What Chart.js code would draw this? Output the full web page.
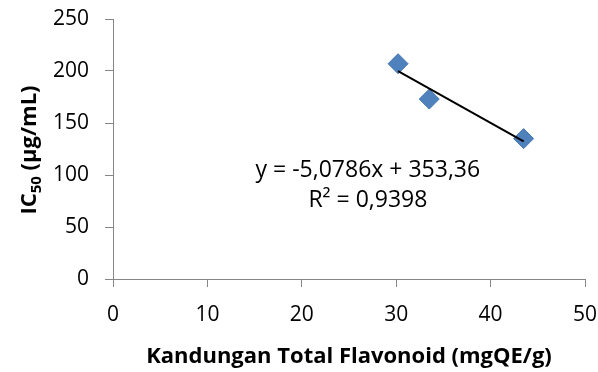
<!DOCTYPE html>
<html>
<head>
<meta charset="utf-8">
<script src="https://cdn.jsdelivr.net/npm/chart.js@4/dist/chart.umd.min.js"></script>
<style>
  html, body { margin: 0; padding: 0; background: #fff; }
  #wrap { width: 598px; height: 372px; }
</style>
</head>
<body>
<div id="wrap"><canvas id="chart" width="598" height="372"></canvas></div>
<script>
// Data
const flavonoid = [30.2, 33.5, 43.5];
const ic50 = [207, 173, 135];
// Trendline from the equation shown in the chart
const slope = -5.0786;
const intercept = 353.36;
const eqText = ['y = -5,0786x + 353,36', 'R\u00B2 = 0,9398'];
const xTicks = [0, 10, 20, 30, 40, 50];
const yTicks = [0, 50, 100, 150, 200, 250];

const FONT = "'Open Sans', 'Liberation Sans', sans-serif";
const axisGray = '#868686';

const points = flavonoid.map((x, i) => ({ x: x, y: ic50[i] }));
const xMin = Math.min(...flavonoid), xMax = Math.max(...flavonoid);
const trend = [xMin, xMax].map(x => ({ x: x, y: slope * x + intercept }));

// equation label + y axis title with subscript
const extras = {
  id: 'extras',
  afterDraw(chart) {
    const c = chart.ctx;
    const xs = chart.scales.x, ys = chart.scales.y;
    c.save();
    c.fillStyle = '#000';
    c.font = '23px ' + FONT;
    c.textAlign = 'center';
    c.textBaseline = 'middle';
    c.fillText(eqText[0], xs.getPixelForValue(27), ys.getPixelForValue(104));
    c.fillText(eqText[1], xs.getPixelForValue(27), ys.getPixelForValue(76));

    // y title, rotated
    c.translate(28, 150);
    c.rotate(-Math.PI / 2);
    c.textAlign = 'left';
    c.textBaseline = 'alphabetic';
    const big = 'bold 22px ' + FONT, small = 'bold 15px ' + FONT;
    const parts = [['IC', big, 0], ['50', small, 5], [' (\u00B5g/mL)', big, 0]];
    let w = 0;
    parts.forEach(p => { c.font = p[1]; w += c.measureText(p[0]).width; });
    let x = -w / 2;
    parts.forEach(p => {
      c.font = p[1];
      c.fillText(p[0], x, 8 + p[2]);
      x += c.measureText(p[0]).width;
    });
    c.restore();
  }
};

new Chart(document.getElementById('chart'), {
  type: 'scatter',
  data: {
    datasets: [
      {
        label: 'IC50',
        data: points,
        pointStyle: 'rectRot',
        pointRadius: 10,
        pointHoverRadius: 10,
        backgroundColor: '#4F81BD',
        borderColor: '#4677B0',
        borderWidth: 1,
        order: 2
      },
      {
        label: 'Trend',
        data: trend,
        showLine: true,
        borderColor: '#000',
        borderWidth: 2,
        pointRadius: 0,
        fill: false,
        order: 1
      }
    ]
  },
  options: {
    responsive: false,
    animation: false,
    layout: { padding: { top: 19, right: 13, left: 0, bottom: 0 } },
    plugins: {
      legend: { display: false },
      tooltip: { enabled: false }
    },
    scales: {
      x: {
        type: 'linear',
        min: 0, max: 50,
        afterBuildTicks: s => { s.ticks = xTicks.map(v => ({ value: v })); },
        afterFit: s => { s.height = 93; s.paddingLeft = 0; s.paddingRight = 0; },
        grid: { drawOnChartArea: false, drawTicks: true, tickLength: 8, color: axisGray },
        border: { color: axisGray, width: 1 },
        ticks: { color: '#000', padding: 15, font: { family: FONT, size: 21 } },
        title: {
          display: true,
          text: 'Kandungan Total Flavonoid (mgQE/g)',
          color: '#000',
          font: { family: FONT, size: 22, weight: 'bold' },
          padding: { top: 4, bottom: 2 }
        }
      },
      y: {
        type: 'linear',
        min: 0, max: 250,
        afterBuildTicks: s => { s.ticks = yTicks.map(v => ({ value: v })); },
        afterFit: s => { s.width = 113; s.paddingTop = 0; s.paddingBottom = 0; },
        grid: { drawOnChartArea: false, drawTicks: true, tickLength: 8, color: axisGray },
        border: { color: axisGray, width: 1 },
        ticks: { color: '#000', padding: 16, font: { family: FONT, size: 21 } }
      }
    }
  },
  plugins: [extras]
});
</script>
</body>
</html>
